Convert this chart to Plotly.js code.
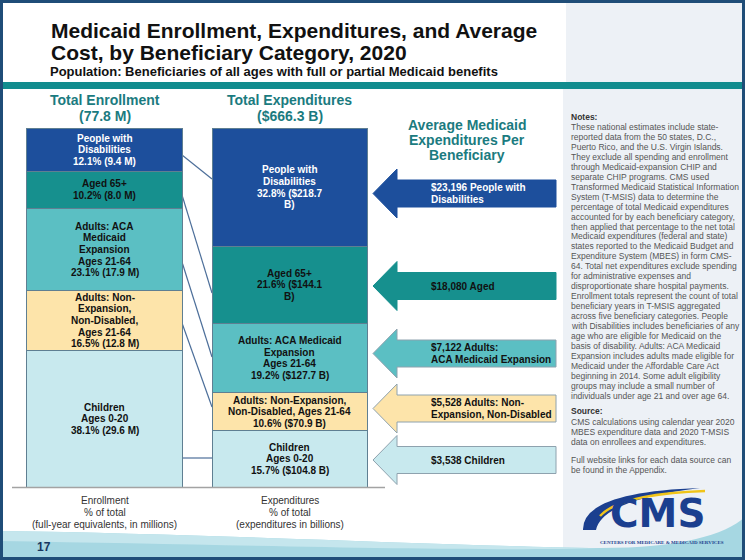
<!DOCTYPE html>
<html><head><meta charset="utf-8">
<script src="https://cdn.plot.ly/plotly-3.0.1.min.js"></script>
<style>html,body{margin:0;padding:0;background:#fff;}#chart{width:745px;height:560px;}</style>
</head><body><div id="chart"></div>
<script>
// ---------------- DATA ----------------
const categories = ['People with Disabilities','Aged 65+','Adults: ACA Medicaid Expansion','Adults: Non-Expansion, Non-Disabled','Children'];
const enrollPct = [12.1, 10.2, 23.1, 16.5, 38.1];
const enrollMillions = [9.4, 8.0, 17.9, 12.8, 29.6];
const expendPct = [32.8, 21.6, 19.2, 10.6, 15.7];
const expendBillions = [218.7, 144.1, 127.7, 70.9, 104.8];
const avgPerBeneficiary = [23196, 18080, 7122, 5528, 3538];
const totalEnrollmentM = 77.8;
const totalExpendituresB = 666.3;
const enrollNameLines = [['People with','Disabilities'],['Aged 65+'],['Adults: ACA','Medicaid','Expansion','Ages 21-64'],['Adults: Non-','Expansion,','Non-Disabled,','Ages 21-64'],['Children','Ages 0-20']];
const expendNameLines = [['People with','Disabilities'],['Aged 65+'],['Adults: ACA Medicaid','Expansion','Ages 21-64'],['Adults: Non-Expansion,','Non-Disabled, Ages 21-64'],['Children','Ages 0-20']];
const arrowLabelLines = [['People with','Disabilities'],['Aged'],['Adults:','ACA Medicaid Expansion'],['Adults: Non-','Expansion, Non-Disabled'],['Children']];
const barGroups = ['Enrollment','Expenditures'];

// ---------------- STYLE ----------------
const fills = ['#1d4f9c','#16908e','#5bbfc3','#fde4aa','#c8e9ee'];
const textCols = ['#ffffff','#111111','#111111','#111111','#111111'];
const expValueWrap = [true, true, false, false, false];
const FONT = 'Liberation Sans, Arial, sans-serif';
const TEAL = '#1b7b80';
const W = 745, H = 560;
const PX = x => x / W, PY = y => 1 - y / H;
function poly(pts){ return 'M ' + pts.map(p => PX(p[0]) + ',' + PY(p[1])).join(' L ') + ' Z'; }

// ---------------- TRACES ----------------
const traces = [];
for (let i = categories.length - 1; i >= 0; i--) {
  traces.push({
    type: 'bar', name: categories[i], x: [0, 1], y: [enrollPct[i], expendPct[i]],
    width: 0.838, marker: {color: fills[i], line: {color: '#5f7f92', width: 1}},
    hoverinfo: 'skip'
  });
}

const shapes = [];
const ann = [];
// background panels
shapes.push({type:'rect', xref:'paper', yref:'paper', x0:PX(566), x1:PX(745), y0:PY(0), y1:PY(82), fillcolor:'#edf1f6', line:{width:0}, layer:'below'});
shapes.push({type:'rect', xref:'paper', yref:'paper', x0:PX(563), x1:PX(745), y0:PY(88), y1:PY(560), fillcolor:'#edf1f6', line:{width:0}, layer:'below'});
shapes.push({type:'rect', xref:'paper', yref:'paper', x0:0, x1:1, y0:PY(82), y1:PY(89), fillcolor:'#118c8e', line:{width:0}, layer:'below'});
// bottom swoosh band
shapes.push({type:'path', xref:'paper', yref:'paper', layer:'below', fillcolor:'#a6d7e2', line:{width:0},
  path: 'M ' + PX(0)+','+PY(531) + ' C ' + PX(220)+','+PY(534)+' '+PX(450)+','+PY(546)+' '+PX(600)+','+PY(548) +
        ' C ' + PX(680)+','+PY(548)+' '+PX(725)+','+PY(535)+' '+PX(745)+','+PY(517) + ' L ' + PX(745)+','+PY(560) + ' L ' + PX(0)+','+PY(560) + ' Z'});
shapes.push({type:'path', xref:'paper', yref:'paper', layer:'below', fillcolor:'#c5e6ed', line:{width:0},
  path: 'M ' + PX(0)+','+PY(531) + ' C ' + PX(220)+','+PY(534)+' '+PX(450)+','+PY(546)+' '+PX(600)+','+PY(548) +
        ' C ' + PX(480)+','+PY(552)+' '+PX(250)+','+PY(545)+' '+PX(0)+','+PY(541) + ' Z'});

// connector lines between the two bars
const conn = [[155,179],[195,293],[262,357],[323,407],[458,458]];
conn.forEach(c => shapes.push({type:'line', xref:'paper', yref:'paper', x0:PX(182), y0:PY(c[0]), x1:PX(212), y1:PY(c[1]), line:{color:'#4d6f9a', width:1.2}, layer:'below'}));
// baseline
shapes.push({type:'line', xref:'paper', yref:'paper', x0:PX(12), x1:PX(385), y0:PY(487.5), y1:PY(487.5), line:{color:'#a3a3a3', width:1.5}, layer:'above'});

// arrows
const arrowCenters = [193.5, 286, 353.5, 408.5, 460];
arrowCenters.forEach((c, i) => {
  shapes.push({type:'path', xref:'paper', yref:'paper', layer:'below', fillcolor: fills[i], line:{color: i < 2 ? fills[i] : '#8ea2ae', width:1},
    path: poly([[373,c],[397,c-24.5],[397,c-13.5],[556,c-13.5],[556,c+13.5],[397,c+13.5],[397,c+24.5]])});
  const lines = arrowLabelLines[i].slice();
  lines[0] = '$' + avgPerBeneficiary[i].toLocaleString('en-US') + ' ' + lines[0];
  const n = lines.length;
  lines.forEach((t, k) => ann.push({xref:'paper', yref:'paper', x:PX(429), y:PY(c), yshift:((n-1)/2 - k)*12.5, xanchor:'left', yanchor:'middle',
    text:'<b>'+t+'</b>', showarrow:false, font:{family:FONT, size:10, color:textCols[i]}}));
});

// bar segment labels (positioned via data cumulative midpoints)
function cumMid(arr, i){ let below = 0; for (let j = i+1; j < arr.length; j++) below += arr[j]; return below + arr[i]/2; }
categories.forEach((c, i) => {
  const eLines = enrollNameLines[i].concat([enrollPct[i].toFixed(1) + '% (' + enrollMillions[i].toFixed(1) + ' M)']);
  let xl = expendNameLines[i].slice();
  if (expValueWrap[i]) { xl.push(expendPct[i].toFixed(1) + '% ($' + expendBillions[i].toFixed(1)); xl.push('B)'); }
  else xl.push(expendPct[i].toFixed(1) + '% ($' + expendBillions[i].toFixed(1) + ' B)');
  [[0, eLines, enrollPct], [1, xl, expendPct]].forEach(([xv, lines, arr]) => {
    const n = lines.length, ym = cumMid(arr, i);
    lines.forEach((t, k) => ann.push({xref:'x', yref:'y', x:xv, y:ym, yshift:((n-1)/2 - k)*11.6, xanchor:'center', yanchor:'middle',
      text:'<b>'+t+'</b>', showarrow:false, font:{family:FONT, size:10, color:textCols[i]}}));
  });
});

// headers
function txt(x, y, t, size, color, anchor, family, weight){ ann.push({xref:'paper', yref:'paper', x:PX(x), y:PY(y), xanchor:anchor||'center', yanchor:'middle', text:t, showarrow:false, font:{family:family||FONT, size:size, color:color, weight: weight||'normal'}}); }
txt(104.5, 100, '<b>Total ' + barGroups[0] + '</b>', 14, TEAL);
txt(104.5, 115.5, '<b>(' + totalEnrollmentM.toFixed(1) + ' M)</b>', 14, TEAL);
txt(289.5, 100, '<b>Total ' + barGroups[1] + '</b>', 14, TEAL);
txt(289.5, 115.5, '<b>($' + totalExpendituresB.toFixed(1) + ' B)</b>', 14, TEAL);
txt(467, 125, '<b>Average Medicaid</b>', 14, TEAL);
txt(467, 140, '<b>Expenditures Per</b>', 14, TEAL);
txt(467, 155, '<b>Beneficiary</b>', 14, TEAL);
// bottom axis labels
txt(104.5, 500, barGroups[0], 10, '#333');
txt(104.5, 512, '% of total', 10, '#333');
txt(104.5, 524, '(full-year equivalents, in millions)', 10, '#333');
txt(289.5, 500, barGroups[1], 10, '#333');
txt(289.5, 512, '% of total', 10, '#333');
txt(289.5, 524, '(expenditures in billions)', 10, '#333');
// title (condensed afterwards to the reference's narrow width)
const titleLines = [
  {t:'Medicaid Enrollment, Expenditures, and Average', y:30, size:21, cx:294, width:501},
  {t:'Cost, by Beneficiary Category, 2020', y:52, size:21, cx:229, width:383},
  {t:'Population: Beneficiaries of all ages with full or partial Medicaid benefits', y:71.5, size:13, cx:274, width:456}
];
titleLines.forEach(o => txt(o.cx, o.y, o.t, o.size, '#111', 'center', FONT, 'bold'));
// page number
txt(35, 547, '<b>17</b>', 12, '#17365f', 'left');

// notes
const notes = ['These national estimates include state-','reported data from the 50 states, D.C.,','Puerto Rico, and the U.S. Virgin Islands.','They exclude all spending and enrollment','through Medicaid-expansion CHIP and','separate CHIP programs. CMS used','Transformed Medicaid Statistical Information','System (T-MSIS) data to determine the','percentage of total Medicaid expenditures','accounted for by each beneficiary category,','then applied that percentage to the net total','Medicaid expenditures (federal and state)','states reported to the Medicaid Budget and','Expenditure System (MBES) in form CMS-','64. Total net expenditures exclude spending','for administrative expenses and','disproportionate share hospital payments.','Enrollment totals represent the count of total','beneficiary years in T-MSIS aggregated','across five beneficiary categories. People','with Disabilities includes beneficiaries of any','age who are eligible for Medicaid on the','basis of disability. Adults: ACA Medicaid','Expansion includes adults made eligible for','Medicaid under the Affordable Care Act','beginning in 2014. Some adult eligibility','groups may include a small number of','individuals under age 21 and over age 64.'];
txt(569, 117, '<b>Notes:</b>', 8.5, '#333', 'left');
notes.forEach((t, k) => txt(569, 127 + k*9.95, t, 8.5, '#555', 'left'));
txt(569, 411, '<b>Source:</b>', 8.5, '#333', 'left');
['CMS calculations using calendar year 2020','MBES expenditure data and 2020 T-MSIS','data on enrollees and expenditures.'].forEach((t,k) => txt(569, 421.5 + k*10, t, 8.5, '#555', 'left'));
['Full website links for each data source can','be found in the Appendix.'].forEach((t,k) => txt(569, 460 + k*10, t, 8.5, '#555', 'left'));

// CMS logo
shapes.push({type:'path', xref:'paper', yref:'paper', layer:'above', fillcolor:'#1b3f8f', line:{width:0},
  path: 'M '+PX(583)+','+PY(530)+' Q '+PX(582)+','+PY(492)+' '+PX(700)+','+PY(488)+' Q '+PX(602)+','+PY(500)+' '+PX(596)+','+PY(530)+' Z'});
shapes.push({type:'path', xref:'paper', yref:'paper', layer:'above', line:{color:'#f0c419', width:2.5},
  path: 'M '+PX(600)+','+PY(516)+' Q '+PX(620)+','+PY(494)+' '+PX(705)+','+PY(491)});
txt(658, 513, '<b>CMS</b>', 39, '#1b3f8f', 'center', 'DejaVu Sans, Liberation Sans, sans-serif');
txt(662, 542.5, '<b>CENTERS FOR MEDICARE &amp; MEDICAID SERVICES</b>', 5, '#1b3f8f', 'center', 'Liberation Serif, serif');

// outer frame
shapes.push({type:'rect', xref:'paper', yref:'paper', x0:PX(1.5), x1:PX(743.5), y0:PY(1.5), y1:PY(558.5), line:{color:'#1f4d78', width:3}, fillcolor:'rgba(0,0,0,0)', layer:'above'});

const layout = {
  width: W, height: H, margin: {l:0, r:0, t:0, b:0}, showlegend: false,
  paper_bgcolor: '#ffffff', plot_bgcolor: 'rgba(0,0,0,0)', barmode: 'stack', bargap: 0,
  xaxis: {domain: [12/W, 385/W], range: [-0.5, 1.516], visible: false, fixedrange: true},
  yaxis: {domain: [(H-487)/H, (H-128)/H], range: [0, 100], visible: false, fixedrange: true},
  shapes: shapes, annotations: ann
};
function condense(gd){
  const norm = s => (s || '').replace(/[\s\u00a0]+/g, ' ').trim();
  gd.querySelectorAll('svg text').forEach(el => {
    const o = titleLines.find(q => norm(q.t) === norm(el.textContent));
    if (!o || el.getAttribute('data-cond')) return;
    el.setAttribute('data-cond', '1');
    let w = 0;
    try { w = el.getComputedTextLength(); } catch (e) { w = 0; }
    if (!w) { try { w = el.getBBox().width; } catch (e) {} }
    if (w > o.width) {
      const s = o.width / w;
      const bb = el.getBBox();
      const cx = bb.x + bb.width / 2;
      el.setAttribute('transform', 'translate(' + cx + ',0) scale(' + s + ',1) translate(' + (-cx) + ',0)');
    }
  });
}
Plotly.newPlot('chart', traces, layout, {staticPlot: true, displayModeBar: false}).then(gd => { condense(gd); });
</script></body></html>
